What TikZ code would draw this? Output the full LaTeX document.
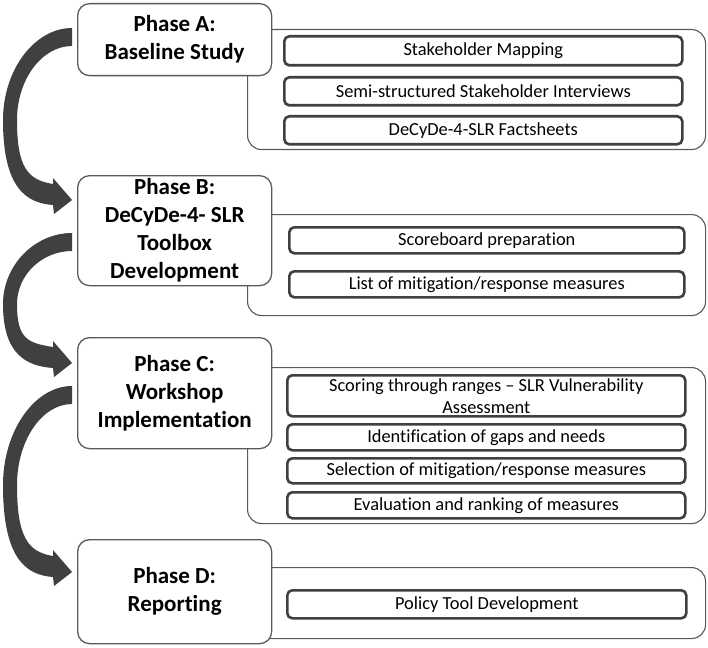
\documentclass[tikz,border=0pt]{standalone}
\usepackage{fontspec}
\setmainfont{Carlito}[Ligatures=CommonOff]
\usetikzlibrary{calc}
\definecolor{boxline}{HTML}{5A5A5A}
\definecolor{itemline}{HTML}{404040}
\definecolor{arrowfill}{HTML}{404040}
\tikzset{
 phasebox/.style={draw=boxline, line width=1.3pt, rounded corners=12pt, fill=white, align=center, anchor=north west, inner sep=0pt, font=\bfseries\fontsize{23}{28}\selectfont, minimum width=194pt},
 groupbox/.style={draw=boxline, line width=1.1pt, rounded corners=14pt, fill=white, anchor=north west, inner sep=0pt, minimum width=458pt},
 itembox/.style={draw=itemline, line width=2.6pt, rounded corners=5pt, fill=white, align=center, anchor=north west, inner sep=0pt, font=\fontsize{18.4}{22}\selectfont},
}
\newcommand\phasearrow[4]{%
\fill[arrowfill] let \p1=($(#1.north west)+(-5,-#2)$), \p2=($(#3.north west)+(-5,-#4)$), \n1={(\y1+\y2)/2-6pt} in
 (\x1,\y1) .. controls (\x1-37pt,\y1) and (3pt,{\n1+0.55*(\y1-\n1)}) .. (3pt,\n1)
 .. controls (3pt,{\n1-0.85*(\n1-\y2)}) and (26pt,{\y2-3pt}) .. (53pt,{\y2-5pt})
 -- (54pt,{\y2-14pt}) -- (\x2,\y2) -- (53pt,{\y2+22pt}) -- (53pt,{\y2+16pt})
 .. controls (28pt,{\y2+20pt}) and (17pt,{\n1-0.6*(\n1-\y2)}) .. (17pt,\n1)
 .. controls (17pt,{\n1+0.55*(\y1-18pt-\n1)}) and (\x1-30pt,{\y1-18pt}) .. (\x1,{\y1-18pt}) -- cycle;}
\begin{document}
\begin{tikzpicture}[x=1pt,y=1pt]
\fill[white] (0,0) rectangle (708,-647);
\useasboundingbox (0,0) rectangle (708,-647);
% group containers
\node[groupbox, minimum height=120pt] (gA) at (247,-29) {};
\node[groupbox, minimum height=101pt] (gB) at (247,-214) {};
\node[groupbox, minimum height=156pt] (gC) at (247,-367) {};
\node[groupbox, minimum height=71pt] (gD) at (247,-567) {};
% phase boxes
\node[phasebox, minimum height=72pt] (pA) at (77,-3) {Phase A:\\Baseline Study};
\node[phasebox, minimum height=110pt] (pB) at (77,-175) {Phase B:\\DeCyDe-4- SLR\\Toolbox\\Development};
\node[phasebox, minimum height=111pt] (pC) at (77,-337) {Phase C:\\Workshop\\Implementation};
\node[phasebox, minimum height=104pt] (pD) at (77,-539) {Phase D:\\Reporting};
% items
\node[itembox, minimum width=398pt, minimum height=29pt] (iA1) at (283,-35) {Stakeholder Mapping};
\node[itembox, minimum width=398pt, minimum height=28pt] (iA2) at (283,-76) {Semi-structured Stakeholder Interviews};
\node[itembox, minimum width=398pt, minimum height=28pt] (iA3) at (283,-115) {DeCyDe-4-SLR Factsheets};
\node[itembox, minimum width=395pt, minimum height=26pt] (iB1) at (288,-226) {Scoreboard preparation};
\node[itembox, minimum width=395pt, minimum height=26pt] (iB2) at (288,-270) {List of mitigation/response measures};
\node[itembox, minimum width=398pt, minimum height=41pt] (iC1) at (286,-374) {Scoring through ranges – SLR Vulnerability\\Assessment};
\node[itembox, minimum width=398pt, minimum height=26pt] (iC2) at (286,-423) {Identification of gaps and needs};
\node[itembox, minimum width=398pt, minimum height=25pt] (iC3) at (286,-457) {Selection of mitigation/response measures};
\node[itembox, minimum width=398pt, minimum height=26pt] (iC4) at (286,-491) {Evaluation and ranking of measures};
\node[itembox, minimum width=399pt, minimum height=28pt] (iD1) at (286,-589) {Policy Tool Development};
% arrows
\phasearrow{pA}{25}{pB}{25}
\phasearrow{pB}{58}{pC}{26}
\phasearrow{pC}{49}{pD}{33}
\end{tikzpicture}
\end{document}
